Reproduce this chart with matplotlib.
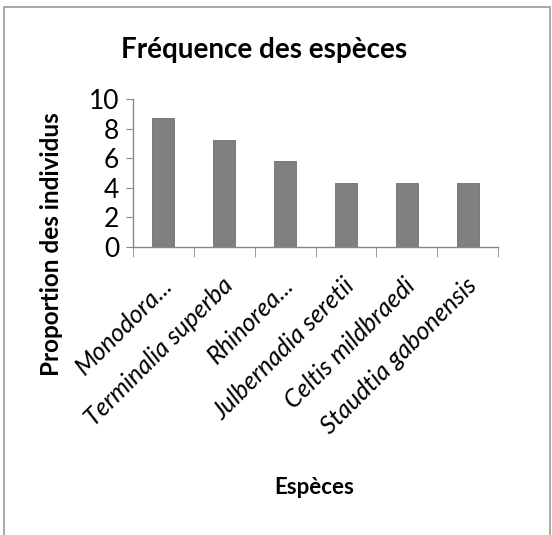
import matplotlib
matplotlib.use("Agg")
import matplotlib.pyplot as plt
import matplotlib.transforms as mtransforms
from matplotlib.patches import Rectangle

# donnees
especes = ["Monodora...", "Terminalia superba", "Rhinorea...",
           "Julbernadia seretii", "Celtis mildbraedi", "Staudtia gabonensis"]
proportions = [8.7, 7.2, 5.8, 4.3, 4.3, 4.3]
yticks = [0, 2, 4, 6, 8, 10]

plt.rcParams['font.family'] = ['Lato', 'DejaVu Sans']

fig = plt.figure(figsize=(5.52, 5.35), dpi=100)
ax = fig.add_axes([133 / 552, 1 - 247 / 535, 365 / 552, 148 / 535])

x = list(range(len(especes)))
ax.bar(x, proportions, width=0.36, color="#808080", edgecolor="#6e6e6e", linewidth=0.6)

ax.set_xlim(-0.5, len(especes) - 0.5)
ax.set_ylim(0, 10)
ax.set_yticks(yticks)
ax.tick_params(axis='y', labelsize=19, length=5, color="#888888", pad=5, direction='out')

# ticks between categories, labels under bars
ax.set_xticks(x)
ax.set_xticklabels(especes, rotation=45, ha='right', va='center',
                   rotation_mode='anchor', fontsize=18, style='italic')
ax.tick_params(axis='x', length=0, pad=25)
offset = mtransforms.ScaledTranslation(5 / 100, 0, fig.dpi_scale_trans)
for lab in ax.get_xticklabels():
    lab.set_transform(lab.get_transform() + offset)
ax.set_xticks([i - 0.5 for i in range(len(especes) + 1)], minor=True)
ax.tick_params(axis='x', which='minor', length=7, color="#888888", direction='out')

for s in ["top", "right"]:
    ax.spines[s].set_visible(False)
for s in ["left", "bottom"]:
    ax.spines[s].set_color("#888888")
    ax.spines[s].set_linewidth(1.0)

fig.text(264 / 552, 1 - 50 / 535, "Fréquence des espèces", ha='center', va='center',
         fontsize=20, fontweight='bold')
fig.text(52 / 552, 1 - 244 / 535, "Proportion des individus", ha='center', va='center',
         rotation=90, fontsize=17.5, fontweight='bold')
fig.text(314 / 552, 1 - 488 / 535, "Espèces", ha='center', va='center',
         fontsize=16, fontweight='bold')

# cadre du graphique
fig.patches.append(Rectangle((4 / 552, -0.01), 546 / 552, 1 - 7 / 535 + 0.01,
                             transform=fig.transFigure, fill=False,
                             edgecolor="#999999", linewidth=1.2))

fig.savefig("out.png", dpi=100)
